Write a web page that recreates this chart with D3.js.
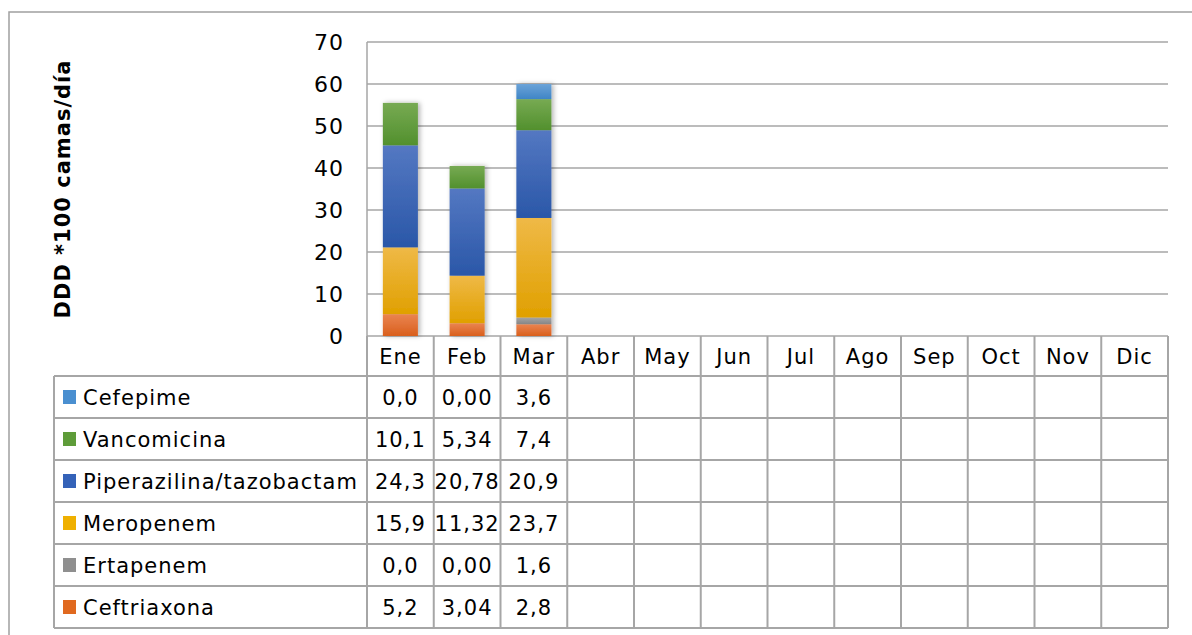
<!DOCTYPE html>
<html>
<head>
<meta charset="utf-8">
<script src="https://cdn.jsdelivr.net/npm/d3@7"></script>
<style>
  body { margin: 0; background: #fff; }
  svg { display: block; font-family: "DejaVu Sans", sans-serif; letter-spacing: 1px; }
</style>
</head>
<body>
<div id="chart"></div>
<script>
// data
var months = ["Ene", "Feb", "Mar", "Abr", "May", "Jun", "Jul", "Ago", "Sep", "Oct", "Nov", "Dic"]
var drugs = ["Ceftriaxona", "Ertapenem", "Meropenem", "Piperazilina/tazobactam", "Vancomicina", "Cefepime"]
var ceftriaxona = [5.2, 3.04, 2.8]
var ertapenem = [0.0, 0.00, 1.6]
var meropenem = [15.9, 11.32, 23.7]
var piperazilina = [24.3, 20.78, 20.9]
var vancomicina = [10.1, 5.34, 7.4]
var cefepime = [0.0, 0.00, 3.6]
var decimals = [1, 2, 1]   // how each month's column is written in the table
var yTicks = [0, 10, 20, 30, 40, 50, 60, 70]

var series = [ceftriaxona, ertapenem, meropenem, piperazilina, vancomicina, cefepime]
var colors = {
  "Ceftriaxona": ["#ea8450", "#d95f1c"],
  "Ertapenem": ["#a5a5a5", "#858585"],
  "Meropenem": ["#efb947", "#e0a000"],
  "Piperazilina/tazobactam": ["#5478c2", "#2a57a8"],
  "Vancomicina": ["#77aa53", "#52902d"],
  "Cefepime": ["#6ba3d8", "#3f85c6"]
}
var swatch = {
  "Ceftriaxona": "#e0691f", "Ertapenem": "#8f8f8f", "Meropenem": "#efb000",
  "Piperazilina/tazobactam": "#3462b8", "Vancomicina": "#5e9c39", "Cefepime": "#4a8fd0"
}

var W = 1192, H = 635
var plot = { left: 367, right: 1168, top: 42, bottom: 336 }
var table = { left: 54, headH: 40, rowH: 42 }
var gridColor = "#a6a6a6"

var svg = d3.select("#chart").append("svg")
  .attr("width", W).attr("height", H)

// outer frame
svg.append("rect")
  .attr("x", 9).attr("y", 12).attr("width", W).attr("height", H)
  .attr("fill", "none").attr("stroke", "#a0a0a0").attr("stroke-width", 1.5)

var defs = svg.append("defs")
drugs.forEach(function(name, i) {
  var g = defs.append("linearGradient").attr("id", "g" + i)
    .attr("x1", 0).attr("y1", 0).attr("x2", 0).attr("y2", 1)
  g.append("stop").attr("offset", "0%").attr("stop-color", colors[name][0])
  g.append("stop").attr("offset", "100%").attr("stop-color", colors[name][1])
})
var shadow = defs.append("filter").attr("id", "shadow")
  .attr("x", "-30%").attr("y", "-10%").attr("width", "160%").attr("height", "120%")
shadow.append("feDropShadow").attr("dx", 2).attr("dy", 0).attr("stdDeviation", 2.5)
  .attr("flood-color", "#000").attr("flood-opacity", 0.3)

var x = d3.scaleBand().domain(months)
  .range([plot.left, plot.right])
  .paddingInner(0.475).paddingOuter(0.2375)
var col = d3.scaleBand().domain(months).range([plot.left, plot.right])
var y = d3.scaleLinear().domain([0, 70]).range([plot.bottom, plot.top])

// gridlines
svg.append("g").selectAll("line").data(yTicks).enter().append("line")
  .attr("x1", plot.left).attr("x2", plot.right)
  .attr("y1", d => y(d)).attr("y2", d => y(d))
  .attr("stroke", gridColor).attr("stroke-width", 1.5)
svg.append("line")
  .attr("x1", plot.left).attr("x2", plot.left)
  .attr("y1", plot.top).attr("y2", plot.bottom)
  .attr("stroke", gridColor).attr("stroke-width", 1.5)

// y axis labels
var yAxis = svg.append("g")
  .attr("transform", "translate(" + (plot.left - 23) + ",0)")
  .call(d3.axisLeft(y).tickValues(yTicks).tickSize(0).tickPadding(0))
yAxis.select(".domain").remove()
yAxis.selectAll("text")
  .attr("font-family", "DejaVu Sans, sans-serif").attr("font-size", 22).attr("fill", "#000")

svg.append("text")
  .attr("transform", "translate(70," + ((plot.top + plot.bottom) / 2) + ") rotate(-90)")
  .attr("text-anchor", "middle")
  .attr("font-size", 21).attr("font-weight", "bold")
  .text("DDD *100 camas/día")

// stacked bars
var rows = months.slice(0, 3).map(function(m, j) {
  var r = { month: m }
  drugs.forEach(function(name, i) { r[name] = series[i][j] })
  return r
})
var stacked = d3.stack().keys(drugs)(rows)

var bars = svg.append("g").attr("filter", "url(#shadow)")
bars.selectAll("g").data(stacked).enter().append("g")
  .attr("fill", (d, i) => "url(#g" + i + ")")
  .selectAll("rect").data(d => d).enter().append("rect")
  .attr("x", d => x(d.data.month))
  .attr("width", x.bandwidth())
  .attr("y", d => y(d[1]))
  .attr("height", d => y(d[0]) - y(d[1]))

// data table
var tableTop = plot.bottom + table.headH
var tableBottom = tableTop + drugs.length * table.rowH
var tg = svg.append("g")

// header month names
tg.selectAll(".head").data(months).enter().append("text")
  .attr("x", d => col(d) + col.bandwidth() / 2)
  .attr("y", plot.bottom + table.headH / 2 + 8)
  .attr("text-anchor", "middle").attr("font-size", 21)
  .text(d => d)

// horizontal lines
var hLines = d3.range(drugs.length + 1).map(i => tableTop + i * table.rowH)
tg.selectAll(".hl").data(hLines).enter().append("line")
  .attr("x1", table.left).attr("x2", plot.right)
  .attr("y1", d => d).attr("y2", d => d)
  .attr("stroke", gridColor).attr("stroke-width", 2)

// vertical lines
var vLines = months.map(m => col(m)).concat([plot.right])
tg.selectAll(".vl").data(vLines).enter().append("line")
  .attr("x1", d => d).attr("x2", d => d)
  .attr("y1", plot.bottom).attr("y2", tableBottom)
  .attr("stroke", gridColor).attr("stroke-width", 2)
tg.append("line")
  .attr("x1", table.left).attr("x2", table.left)
  .attr("y1", tableTop).attr("y2", tableBottom)
  .attr("stroke", gridColor).attr("stroke-width", 2)

// rows: top row is last series (Cefepime)
var order = drugs.slice().reverse()
var rowG = tg.selectAll(".row").data(order).enter().append("g")
  .attr("transform", (d, i) => "translate(0," + (tableTop + i * table.rowH) + ")")
rowG.append("rect")
  .attr("x", table.left + 9).attr("y", table.rowH / 2 - 7)
  .attr("width", 13).attr("height", 14)
  .attr("fill", d => swatch[d])
rowG.append("text")
  .attr("x", table.left + 29).attr("y", table.rowH / 2 + 8)
  .attr("font-size", 21)
  .text(d => d)

var fmt = function(v, j) {
  return d3.format("." + decimals[j] + "f")(v).replace(".", ",")
}
rowG.each(function(name) {
  var vals = series[drugs.indexOf(name)]
  d3.select(this).selectAll(".val").data(vals).enter().append("text")
    .attr("x", (d, j) => col(months[j]) + col.bandwidth() / 2)
    .attr("y", table.rowH / 2 + 8)
    .attr("text-anchor", "middle").attr("font-size", 21)
    .text((d, j) => fmt(d, j))
})
</script>
</body>
</html>
